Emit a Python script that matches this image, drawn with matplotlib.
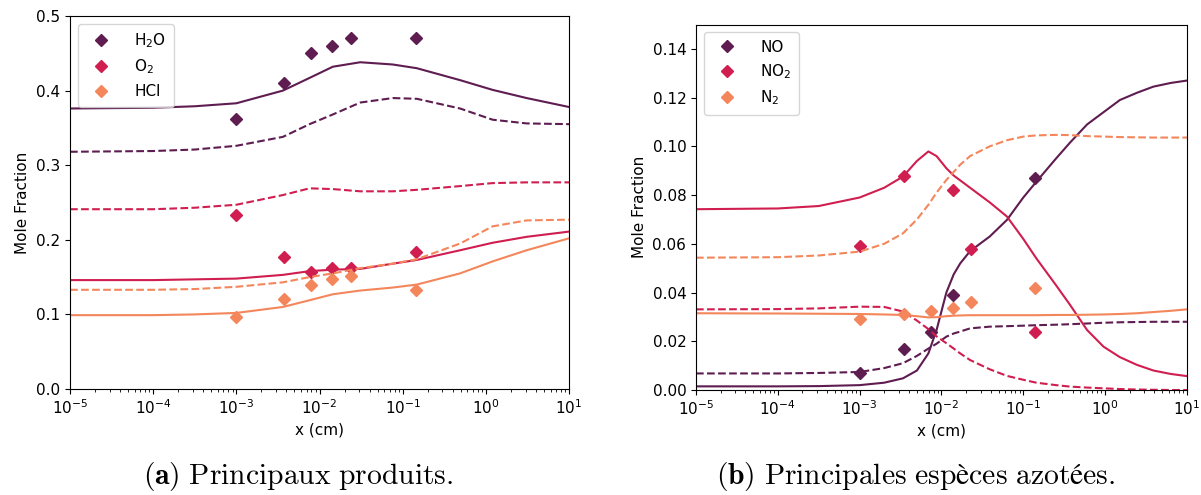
import numpy as np
import matplotlib
matplotlib.use("Agg")
import matplotlib.pyplot as plt

plt.rcParams['mathtext.fontset'] = 'dejavusans'

# ---------------- data : panel (a) ----------------
xa_log = [-5, -4, -3.5, -3, -2.44, -2.12, -1.84, -1.51, -1.12, -0.83, -0.31, 0.08, 0.49, 1.0]
h2o_solid = [0.376, 0.377, 0.379, 0.383, 0.400, 0.417, 0.432, 0.438, 0.435, 0.430, 0.414, 0.401, 0.390, 0.378]
h2o_dash = [0.318, 0.319, 0.321, 0.326, 0.338, 0.355, 0.368, 0.384, 0.390, 0.389, 0.376, 0.361, 0.356, 0.355]
o2_solid = [0.146, 0.146, 0.147, 0.148, 0.153, 0.158, 0.160, 0.161, 0.168, 0.173, 0.186, 0.196, 0.204, 0.211]
o2_dash = [0.241, 0.241, 0.243, 0.247, 0.260, 0.269, 0.268, 0.265, 0.265, 0.267, 0.272, 0.276, 0.277, 0.277]
hcl_solid = [0.099, 0.099, 0.100, 0.102, 0.110, 0.119, 0.127, 0.132, 0.136, 0.140, 0.155, 0.171, 0.186, 0.202]
hcl_dash = [0.133, 0.133, 0.134, 0.137, 0.143, 0.150, 0.155, 0.162, 0.168, 0.174, 0.195, 0.218, 0.226, 0.227]

x_exp = [1e-3, 3.7e-3, 8e-3, 1.4e-2, 2.4e-2, 1.45e-1]
h2o_exp = [0.362, 0.410, 0.450, 0.460, 0.470, 0.470]
o2_exp = [0.233, 0.177, 0.157, 0.162, 0.162, 0.184]
hcl_exp = [0.096, 0.120, 0.139, 0.147, 0.151, 0.133]

# ---------------- data : panel (b) ----------------
xb_log = [-5, -4, -3.5, -3, -2.7, -2.47, -2.3, -2.16, -2.06, -1.94, -1.85, -1.77, -1.65, -1.41,
          -1.2, -1.0, -0.84, -0.6, -0.43, -0.22, -0.02, 0.18, 0.39, 0.59, 0.8, 1.0]
no_solid = [0.0015, 0.0015, 0.0016, 0.0020, 0.0030, 0.0048, 0.0080, 0.0150, 0.0246, 0.0400,
            0.0475, 0.0520, 0.0570, 0.0630, 0.0698, 0.0790, 0.0855, 0.0950, 0.1015, 0.1090, 0.1140,
            0.1190, 0.1220, 0.1245, 0.1260, 0.1270]
no_dash = [0.0068, 0.0068, 0.0070, 0.0074, 0.0090, 0.0110, 0.0140, 0.0170, 0.0190, 0.0219,
           0.0232, 0.0240, 0.0253, 0.0260, 0.0262, 0.0264, 0.0266, 0.0268, 0.0270, 0.0273, 0.0276,
           0.0278, 0.0279, 0.0280, 0.0280, 0.0280]
no2_solid = [0.0742, 0.0745, 0.0755, 0.0790, 0.0830, 0.0876, 0.0940, 0.0979, 0.0960, 0.0910,
             0.0880, 0.0860, 0.0830, 0.0770, 0.0712, 0.0620, 0.0540, 0.0430, 0.0350, 0.0246, 0.0178,
             0.0135, 0.0103, 0.0080, 0.0066, 0.0057]
no2_dash = [0.0331, 0.0332, 0.0335, 0.0342, 0.0341, 0.0322, 0.0285, 0.0250, 0.0220, 0.0192,
            0.0170, 0.0150, 0.0123, 0.0085, 0.0058, 0.0042, 0.0030, 0.0020, 0.0014, 0.0010, 0.0007,
            0.0004, 0.0002, 0.0001, 0.0000, 0.0000]
n2_solid = [0.0315, 0.0314, 0.0313, 0.0312, 0.0310, 0.0308, 0.0303, 0.0298, 0.0299, 0.0303,
            0.0305, 0.0306, 0.0307, 0.0307, 0.0307, 0.0307, 0.0307, 0.0308, 0.0308, 0.0309, 0.0310,
            0.0312, 0.0315, 0.0320, 0.0325, 0.0331]
n2_dash = [0.0543, 0.0545, 0.0552, 0.0568, 0.0600, 0.0643, 0.0700, 0.0760, 0.0810, 0.0862,
           0.0895, 0.0925, 0.0960, 0.1000, 0.1025, 0.1040, 0.1045, 0.1047, 0.1046, 0.1042, 0.1040,
           0.1038, 0.1037, 0.1036, 0.1036, 0.1036]

x_no = [1e-3, 3.5e-3, 7.5e-3, 1.4e-2, 1.4e-1]
no_exp = [0.007, 0.017, 0.024, 0.039, 0.087]
x_no2 = [1e-3, 3.5e-3, 1.4e-2, 2.3e-2, 1.4e-1]
no2_exp = [0.059, 0.088, 0.082, 0.058, 0.024]
x_n2 = [1e-3, 3.5e-3, 7.5e-3, 1.4e-2, 2.3e-2, 1.4e-1]
n2_exp = [0.029, 0.031, 0.0325, 0.0338, 0.036, 0.042]

labels_a = ['H$_2$O', 'O$_2$', 'HCl']
labels_b = ['NO', 'NO$_2$', 'N$_2$']
captions = [r'$\mathbf{(a)}\ \mathrm{Principaux\ produits.}$',
            r'$\mathbf{(b)}\ \mathrm{Principales\ espèces\ azotées.}$']

colors = ['#5e1c51', '#cf1e4f', '#f4865c']

fig = plt.figure(figsize=(12.01, 4.95), dpi=100)
axA = fig.add_axes([0.0583, 0.2141, 0.4155, 0.7536])
axB = fig.add_axes([0.5795, 0.2121, 0.4088, 0.7384])

xa = 10.0 ** np.array(xa_log)
xb = 10.0 ** np.array(xb_log)

lw = 1.5
ms = 6.5
for c, s, d, xe, ye, lab in zip(colors, [h2o_solid, o2_solid, hcl_solid],
                                [h2o_dash, o2_dash, hcl_dash],
                                [x_exp] * 3, [h2o_exp, o2_exp, hcl_exp], labels_a):
    axA.plot(xa, s, color=c, lw=lw)
    axA.plot(xa, d, color=c, lw=lw, ls='--')
    axA.plot(xe, ye, ls='none', marker='D', ms=ms, color=c, label=lab)

for c, s, d, xe, ye, lab in zip(colors, [no_solid, no2_solid, n2_solid],
                                [no_dash, no2_dash, n2_dash],
                                [x_no, x_no2, x_n2], [no_exp, no2_exp, n2_exp], labels_b):
    axB.plot(xb, s, color=c, lw=lw)
    axB.plot(xb, d, color=c, lw=lw, ls='--')
    axB.plot(xe, ye, ls='none', marker='D', ms=ms, color=c, label=lab)

axA.set_ylim(0, 0.5)
axA.set_yticks(np.arange(0, 0.51, 0.1))
axA.set_yticklabels(['0.0', '0.1', '0.2', '0.3', '0.4', '0.5'])
axB.set_ylim(0, 0.15)
axB.set_yticks(np.arange(0, 0.141, 0.02))
axB.set_yticklabels(['0.00', '0.02', '0.04', '0.06', '0.08', '0.10', '0.12', '0.14'])

for ax in [axA, axB]:
    ax.set_xscale('log')
    ax.set_xlim(1e-5, 10)
    ax.tick_params(labelsize=11)
    ax.set_xlabel('x (cm)', fontsize=11)
    ax.set_ylabel('Mole Fraction', fontsize=11)
    ax.legend(loc='upper left', fontsize=11, handletextpad=1.2, borderpad=0.5)

fig.text(0.248, 0.038, captions[0], ha='center', va='center', fontsize=21.3,
         math_fontfamily='cm')
fig.text(0.762, 0.038, captions[1], ha='center', va='center', fontsize=21.3,
         math_fontfamily='cm')

fig.savefig('out.png', dpi=100)
